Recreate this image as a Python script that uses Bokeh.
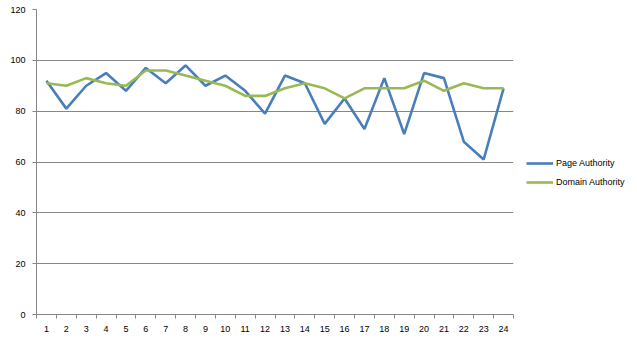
from bokeh.plotting import figure
from bokeh.models import ColumnDataSource, FixedTicker, Legend, LegendItem, Range1d
from bokeh.embed import file_html
from bokeh.resources import INLINE

categories = [str(i) for i in range(1, 25)]
page_authority = [92, 81, 90, 95, 88, 97, 91, 98, 90, 94, 88, 79,
                  94, 91, 75, 85, 73, 93, 71, 95, 93, 68, 61, 89]
domain_authority = [91, 90, 93, 91, 90, 96, 96, 94, 92, 90, 86, 86,
                    89, 91, 89, 85, 89, 89, 89, 92, 88, 91, 89, 89]
y_ticks = [0, 20, 40, 60, 80, 100, 120]

x = list(range(1, len(categories) + 1))
src = ColumnDataSource(dict(x=x, pa=page_authority, da=domain_authority))

GRAY = "#868686"
FONT = "Liberation Sans"

p = figure(frame_width=477, frame_height=305, output_backend="svg", toolbar_location=None,
           x_range=Range1d(0.5, 24.5), y_range=Range1d(0, 120),
           min_border_left=36, min_border_right=0, min_border_top=9, min_border_bottom=33)
p.outline_line_color = None
p.background_fill_color = "white"
p.border_fill_color = "white"

r1 = p.line("x", "pa", source=src, line_color="#4A7EBB", line_width=2.6)
r2 = p.line("x", "da", source=src, line_color="#98B954", line_width=2.6)

# x axis
p.xaxis.ticker = FixedTicker(ticks=x, minor_ticks=[i + 0.5 for i in range(0, 25)])
p.xaxis.major_label_overrides = {i: c for i, c in zip(x, categories)}
p.xaxis.major_tick_out = 0
p.xaxis.major_tick_in = 0
p.xaxis.minor_tick_out = 4
p.xaxis.minor_tick_in = 0
p.xaxis.minor_tick_line_color = GRAY
p.xaxis.axis_line_color = GRAY
p.xaxis.major_label_standoff = 7
p.xaxis.major_label_text_font = FONT
p.xaxis.major_label_text_font_size = "9px"
p.xaxis.major_label_text_color = "black"

# y axis
p.yaxis.ticker = FixedTicker(ticks=y_ticks)
p.yaxis.major_tick_out = 4
p.yaxis.major_tick_in = 0
p.yaxis.minor_tick_line_color = None
p.yaxis.major_tick_line_color = GRAY
p.yaxis.axis_line_color = GRAY
p.yaxis.major_label_standoff = 7
p.yaxis.major_label_text_font = FONT
p.yaxis.major_label_text_font_size = "9px"
p.yaxis.major_label_text_color = "black"

p.xgrid.grid_line_color = None
p.ygrid.grid_line_color = GRAY
p.ygrid.grid_line_width = 1

legend = Legend(items=[LegendItem(label="Page Authority", renderers=[r1]),
                       LegendItem(label="Domain Authority", renderers=[r2])],
                location="center_left", glyph_width=27, glyph_height=12, spacing=7,
                label_standoff=3, padding=0, margin=13,
                title=" ", title_text_font_size="9px", title_standoff=11,
                border_line_color=None, background_fill_alpha=0,
                label_text_font=FONT, label_text_font_size="9px",
                label_text_color="black")
p.add_layout(legend, "right")

open("out.html", "w").write(file_html(p, INLINE))
